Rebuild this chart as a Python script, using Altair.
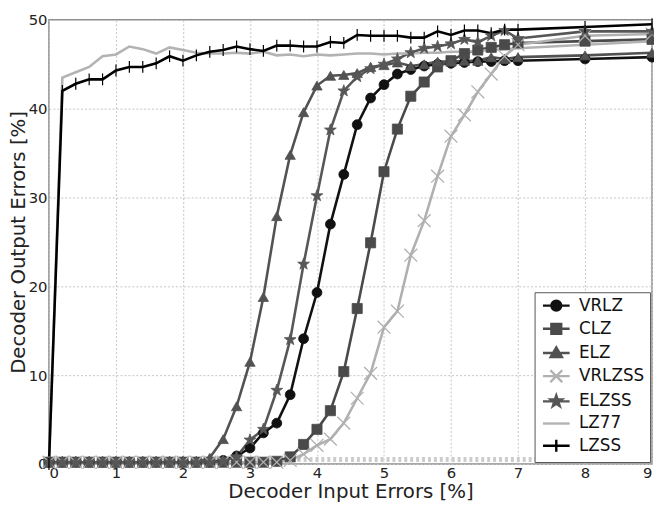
import altair as alt
import pandas as pd

# ---------------- data ----------------
x_vals = [0.0, 0.2, 0.4, 0.6, 0.8, 1.0, 1.2, 1.4, 1.6, 1.8, 2.0, 2.2, 2.4, 2.6, 2.8,
          3.0, 3.2, 3.4, 3.6, 3.8, 4.0, 4.2, 4.4, 4.6, 4.8, 5.0, 5.2, 5.4, 5.6, 5.8,
          6.0, 6.2, 6.4, 6.6, 6.8, 7.0, 8.0, 9.0]

series_names = ["VRLZ", "CLZ", "ELZ", "VRLZSS", "ELZSS", "LZ77", "LZSS"]

vrlz = [0.2, 0.2, 0.2, 0.2, 0.2, 0.2, 0.2, 0.2, 0.2, 0.2, 0.2, 0.2, 0.2,
        0.4, 0.9, 1.8, 3.5, 4.6, 7.8, 14.1, 19.3, 27.0, 32.6, 38.2, 41.2, 42.7,
        43.9, 44.4, 44.8, 45.0, 45.1, 45.2, 45.3, 45.3, 45.4, 45.4, 45.6, 45.8]

clz = [0.2, 0.2, 0.2, 0.2, 0.2, 0.2, 0.2, 0.2, 0.2, 0.2, 0.2, 0.2, 0.2, 0.2, 0.2,
       0.2, 0.2, 0.3, 0.8, 2.2, 3.9, 6.0, 10.4, 17.5, 24.9, 32.9, 37.7, 41.4, 43.0,
       44.7, 45.4, 46.2, 46.6, 46.9, 47.2, 47.4, 47.6, 47.8]

elz = [0.2, 0.2, 0.2, 0.2, 0.2, 0.2, 0.2, 0.2, 0.2, 0.2, 0.2, 0.2,
       0.7, 2.8, 6.5, 11.5, 18.8, 27.9, 34.8, 39.6, 42.6, 43.7, 43.8, 44.0, 44.7,
       44.9, 45.2, 44.8, 45.0, 45.3, 45.3, 45.4, 45.4, 45.8, 45.6, 45.8, 46.0, 46.3]

vrlzss = [0.2, 0.2, 0.2, 0.2, 0.2, 0.2, 0.2, 0.2, 0.2, 0.2, 0.2, 0.2, 0.2, 0.2, 0.2,
          0.2, 0.2, 0.2, 0.4, 1.1, 2.1, 2.8, 4.6, 7.4, 10.2, 15.4, 17.2, 23.5, 27.4,
          32.4, 36.9, 39.3, 41.9, 43.9, 45.9, 47.2, 48.2, 48.4]

elzss = [0.2, 0.2, 0.2, 0.2, 0.2, 0.2, 0.2, 0.2, 0.2, 0.2, 0.2, 0.2, 0.2,
         0.3, 0.8, 2.7, 3.9, 8.3, 14.0, 22.5, 30.2, 37.6, 42.0, 43.6, 44.5, 45.0,
         45.6, 46.3, 46.8, 47.0, 47.3, 47.8, 47.5, 48.2, 48.8, 47.9, 48.7, 48.7]

lz77 = [0.0, 43.5, 44.1, 44.7, 45.9, 46.1, 47.0, 46.7, 46.2, 46.9, 46.6, 46.3, 46.2,
        46.2, 46.3, 46.2, 46.4, 46.0, 46.1, 45.9, 46.1, 46.0, 46.1, 46.2, 46.2, 46.1,
        46.2, 46.2, 46.3, 46.3, 46.4, 46.4, 46.5, 46.6, 46.7, 46.8, 47.2, 47.6]

lzss = [0.0, 42.0, 42.8, 43.3, 43.3, 44.3, 44.7, 44.7, 45.1, 45.9, 45.4, 46.0, 46.4,
        46.6, 47.0, 46.7, 46.5, 47.1, 47.1, 47.0, 47.0, 47.5, 47.4, 48.3, 48.2, 48.2,
        48.2, 48.0, 48.0, 48.7, 48.3, 48.8, 48.8, 48.5, 48.9, 48.9, 49.2, 49.5]

band_x = [0.0, 9.0]
band_y = [0.5, 0.5]

x_ticks = [0, 1, 2, 3, 4, 5, 6, 7, 8, 9]
y_ticks = [0, 10, 20, 30, 40, 50]

# ---------------- styles ----------------
colors = ["#111111", "#4a4a4a", "#525252", "#b0b0b0", "#575757", "#b3b3b3", "#000000"]

STAR = ("M0,-1.2L0.282,-0.388L1.141,-0.371L0.456,0.148L0.705,0.971L0,0.48"
        "L-0.705,0.971L-0.456,0.148L-1.141,-0.371L-0.282,-0.388Z")
XMARK = "M-1.3,-1.3L1.3,1.3M-1.3,1.3L1.3,-1.3"
TICK = "M0,-1.2L0,1.2"

# legend symbols: line segment + marker centred on it (unit = 5 px)
LINE = "M-1,0L4.4,0"
legend_shapes = [
    LINE + "M2.7,0A1,1,0,1,1,0.7,0A1,1,0,1,1,2.7,0Z",
    LINE + "M0.7,-1L2.7,-1L2.7,1L0.7,1Z",
    LINE + "M1.7,-1.15L2.85,0.85L0.55,0.85Z",
    LINE + "M0.5,-1.2L2.9,1.2M0.5,1.2L2.9,-1.2",
    LINE + ("M1.7,-1.2L1.982,-0.388L2.841,-0.371L2.156,0.148L2.405,0.971L1.7,0.48"
            "L0.995,0.971L1.244,0.148L0.559,-0.371L1.418,-0.388Z"),
    LINE,
    LINE + "M1.7,-1.2L1.7,1.2",
]

markers = {
    "VRLZ": dict(shape="circle", size=100, filled=True, strokeWidth=0.8),
    "CLZ": dict(shape="square", size=105, filled=True, strokeWidth=0.8),
    "ELZ": dict(shape="triangle-up", size=110, filled=True, strokeWidth=0.8),
    "VRLZSS": dict(shape=XMARK, size=100, filled=False, strokeWidth=1.3),
    "ELZSS": dict(shape=STAR, size=110, filled=True, strokeWidth=0.8),
    "LZSS": dict(shape=TICK, size=100, filled=False, strokeWidth=1.2),
}

# ---------------- tables ----------------
values = [vrlz, clz, elz, vrlzss, elzss, lz77, lzss]
rows = []
for name, ys in zip(series_names, values):
    for xv, yv in zip(x_vals, ys):
        rows.append({"series": name, "x": xv, "y": yv})
df = pd.DataFrame(rows)
df_series = pd.DataFrame({"series": series_names})
df_band = pd.DataFrame({"x": band_x, "y": band_y})

FONT = "DejaVu Sans"

xenc = alt.X("x:Q", scale=alt.Scale(domain=[0, 9], nice=False, zero=False),
             axis=alt.Axis(values=x_ticks, title="Decoder Input Errors [%]", format="d"))
yenc = alt.Y("y:Q", scale=alt.Scale(domain=[0, 50], nice=False),
             axis=alt.Axis(values=y_ticks, title="Decoder Output Errors [%]", format="d"))

leg = dict(title=None, orient="bottom-right", offset=2, labelFontSize=17, labelFont=FONT,
           labelColor="#111111", symbolSize=100, symbolStrokeWidth=2.4, labelOffset=23,
           rowPadding=2.5, padding=5, strokeColor="#555555", fillColor="white",
           symbolOpacity=1)

legend_layer = alt.Chart(df_series).mark_point(filled=True, opacity=1).encode(
    fill=alt.Fill("series:N", scale=alt.Scale(domain=series_names, range=colors),
                  legend=alt.Legend(**leg)),
    stroke=alt.Stroke("series:N", scale=alt.Scale(domain=series_names, range=colors),
                      legend=alt.Legend(**leg)),
    shape=alt.Shape("series:N", scale=alt.Scale(domain=series_names, range=legend_shapes),
                    legend=alt.Legend(**leg)),
).transform_filter("datum.series == 'none'")

band = alt.Chart(df_band).mark_line(strokeWidth=5, strokeDash=[3, 3], color="#cccccc").encode(
    x=xenc, y=yenc)

lines = alt.Chart(df).mark_line(strokeWidth=2.6).encode(
    x=xenc, y=yenc,
    stroke=alt.Stroke("series:N", scale=alt.Scale(domain=series_names, range=colors), legend=None),
)

layers = [legend_layer, band, lines]
for name, col in zip(series_names, colors):
    if name not in markers:
        continue
    m = markers[name]
    if m["filled"]:
        mk = alt.Chart(df).mark_point(shape=m["shape"], size=m["size"], filled=True, fill=col,
                                      stroke=col, strokeWidth=m["strokeWidth"], opacity=1)
    else:
        mk = alt.Chart(df).mark_point(shape=m["shape"], size=m["size"], filled=False,
                                      stroke=col, strokeWidth=m["strokeWidth"], opacity=1)
    layers.append(mk.encode(x=xenc, y=yenc).transform_filter(alt.datum.series == name))

chart = alt.layer(*layers).properties(
    width=611, height=450,
    autosize=alt.AutoSizeParams(type="none"),
    padding={"left": 41.5, "top": 8.7, "right": 2, "bottom": 42},
).configure_axis(
    labelFont=FONT, labelFontSize=15, labelColor="#222222",
    titleFont=FONT, titleFontSize=20, titleFontWeight="normal", titleColor="#222222",
    gridColor="#c4c4c4", gridDash=[2, 2], gridWidth=1,
    domain=False, ticks=False,
).configure_axisX(labelPadding=2, titlePadding=1).configure_axisY(
    labelPadding=2, titlePadding=0
).configure_view(stroke="#8a8a8a", strokeWidth=1.5)

chart.save("out.html", embed_options={"renderer": "svg", "actions": False})
